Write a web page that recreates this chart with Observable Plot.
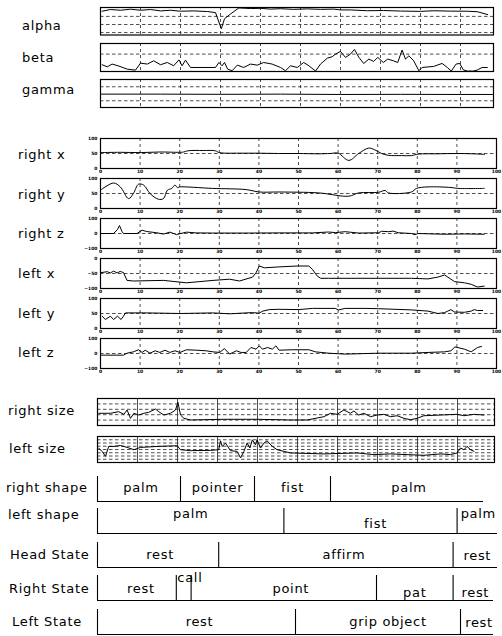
<!DOCTYPE html>
<html><head><meta charset="utf-8">
<script src="https://cdn.jsdelivr.net/npm/d3@7"></script>
<script src="https://cdn.jsdelivr.net/npm/@observablehq/plot@0.6"></script>
<style>
body{margin:0;background:#fff;}
#chart{position:relative;width:502px;height:636px;overflow:hidden;background:#fff;font-family:"DejaVu Sans",sans-serif;}
.lab{position:absolute;font-size:13px;letter-spacing:0.7px;line-height:1;white-space:nowrap;color:#000;transform:translateY(-50%);}
</style></head><body><div id="chart"></div><script>
// ---------- data ----------
const xTicks = [0,10,20,30,40,50,60,70,80,90,100];
const gridX = [10,20,30,40,50,60,70,80,90];

const alphaT = [0.4,2.5,5,7.5,10,12.5,15,17.5,20,23.3,26.7,28.75,30.2,31,32.5,34.6,37.5,40,42.5,45,48.3,51.7,55,58.3,60,62.5,66.7,70.8,75,80,83.3,87.5,91.7,94.2,96.8];
const alphaV = [2.64,2.85,2.76,2.89,2.76,2.85,2.68,2.76,2.64,2.68,2.6,2.47,0.47,1.7,2.3,3.05,2.97,3.0,2.9,2.95,2.87,2.93,2.87,2.9,2.8,2.8,2.7,2.73,2.66,2.62,2.7,2.65,2.64,2.58,2.22];

const betaT = [0.4,1.7,2.9,4.6,6.7,8.75,10,11.7,13.3,15,16.7,18.3,19.6,20.4,21.25,22.5,28.75,29.6,30.4,31,31.8,32.9,34.2,35.8,37.5,39.2,40.8,42.9,45,46.25,47.5,49.2,50.8,52.1,53.75,55,56.7,57.9,58.75,60,61.25,62.5,63.5,64.6,65.8,67.1,68.3,69.3,70.7,71.8,73.2,74.3,75.4,76.25,77.1,78.3,79.6,80.4,83.3,85.4,86.7,87.7,88.9,89.8,90.7,91.7,93.2,94.2,95.4,96.7];
const betaV = [-1.0,-1.2,-0.94,-1.13,-1.42,-1.51,-0.85,-0.94,-0.63,-1.0,-0.79,-1.1,-0.54,-1.1,-0.57,-1.26,-1.26,-0.79,-1.1,-0.79,-1.42,-1.57,-1.04,-1.26,-0.94,-1.04,-0.79,-0.94,-1.26,-1.57,-1.1,-1.26,-0.79,-1.1,-1.6,-0.94,-0.38,-0.25,0,0.25,-0.31,0,0.44,-0.31,-0.88,-0.47,-0.69,-0.31,-0.79,-0.47,-0.63,-0.79,0.38,-0.47,-0.16,-0.63,-1.57,-1.26,-1.16,-0.88,-1.26,-1.6,-0.94,-0.88,-1.48,-1.6,-1.6,-1.5,-1.26,-1.26];

const gammaT = [0,15,30,45,60,75,90,98];
const gammaV = [-0.05,-0.05,-0.08,-0.05,-0.1,-0.08,-0.1,-0.1];

const rxT = [0,5,10,15,20,21,22,26,29,30,35,40,45,50,55,58,60,62.7,65.2,67.7,69.3,71,72.7,76,78.5,80.2,85,90,94,97];
const rxV = [53,54,53,55,54,55,59,60,59,53,51,51,50,50,49,50,51,27,50,68,62,50,44,43,43,48,49,50,49,47];

const ryT = [0.2,3.3,5,7.1,8.3,9.6,10.9,12.5,14.6,15.9,16.9,18,18.8,19.4,20,28.3,36.8,40.1,45.1,55.1,62.7,65.2,70.2,71.9,72.7,78.5,79.8,82.7,88.5,90.2,96.9];
const ryV = [63,85,72,33,50,81,78,50,31,33,61,67,78,70,72,67,63,55,55,52,41,52,54,60,52,55,67,72,70,67,67];

const rzT = [0.2,3.3,4.3,4.8,5.4,5.8,9.2,10.5,11.7,14.2,15.9,17.5,19.2,21.7,24.2,28.3,37.6,45.1,53.5,57.6,59.3,61.8,65.2,70.2,71,72.7,73.9,75.2,78.5,79.4,80.2,86.9,91.9,96.9];
const rzV = [0,0,27,53,15,0,0,22,13,5,-4,9,-7,9,4,3,3,4,4,10,6,12,3,5,15,12,16,5,0,-8,0,-5,-3,-5];

const lxT = [0.2,1.7,2.5,3.3,4.2,5,5.8,6.7,8.3,15.9,21.7,25.1,28.4,32.6,35.1,38.4,39.3,40.1,41.4,45.1,49.7,52.6,53.5,54.7,55.6,57.6,70.2,78.5,82.7,85.2,86.9,89.4,91.9,93.6,95.2,96.9];
const lxV = [-47,-44,-48,-42,-48,-43,-47,-73,-75,-73,-81,-77,-73,-69,-75,-62,-47,-25,-31,-28,-25,-25,-36,-58,-66,-66,-66,-66,-68,-62,-55,-77,-81,-86,-95,-92];

const lyT = [0.4,1.25,2.5,3.3,4.3,5.2,5.8,6.3,11.7,20.1,28.3,32.6,36.8,38.4,40,41,42.6,45.1,50.1,53.5,59.3,60.1,61.8,66.8,70.2,78.5,82.7,85.2,86.9,87.7,88.5,89.4,91.9,93.6,94.4,95.2,96.5];
const lyV = [41,30,41,30,41,30,41,52,52,50,52,49,52,53,51,58,63,64,63,67,67,62,67,67,66,62,58,50,53,58,63,55,54,58,63,60,60];

const lzT = [0.2,5.8,6.7,8.3,9.6,10.5,11.3,12.5,13.8,15,16.3,17.5,18.8,20.1,21.7,24.2,26.7,28.4,30.1,31.3,32.6,34.3,35.5,36.8,38,39.3,40.1,40.9,42.2,43.4,44.3,45.1,48.4,52.6,54.3,57.6,61.8,70.2,78.5,82.7,86.9,88.5,89.5,91.9,93.6,95.2,96.2];
const lzV = [-11,-11,2,11,25,7,22,2,18,7,22,7,18,7,25,22,18,11,7,33,-4,18,7,7,40,29,51,29,40,29,51,22,25,25,11,2,-4,2,2,7,11,18,44,29,11,40,47];

const rsT = [0.3,3.25,5.3,6.6,7.4,8.25,9.1,10.3,11.6,12.8,14.5,15.3,16.6,18.25,19.5,20.1,20.75,21.6,23.25,31.6,39.9,48.25,52.4,56.6,58.25,59.9,61.6,63.25,64.1,65.3,66.6,68.25,69.9,71.6,73.25,74.9,76.6,78.25,79.9,81.6,85.75,89.9,91.6,94.1,96.6];
const rsV = [2.26,2.26,2.56,2.07,2.87,1.33,2.26,1.94,2.26,2.44,3.06,2.56,1.94,2.26,2.87,4.3,1.94,1.33,1.02,1.15,1.15,1.02,1.02,1.63,2.26,2.07,2.87,2.26,2.69,1.94,2.26,1.63,1.94,2.07,1.63,1.81,1.33,1.07,1.33,1.81,1.94,2.07,1.81,2.07,1.94];

const lsT = [0.3,1.2,2,2.8,4.1,5.75,7.4,9.1,10.75,14.9,19.9,20.75,23.25,28.25,30.3,30.75,31.2,32,33.25,34.9,35.75,36.6,37.4,38.1,38.7,39.5,39.9,40.75,41.6,42.4,43.7,44.9,46.6,48.25,56.6,64.9,69.1,73.25,81.6,85.75,88.25,89.9,90.75,91.6,92.4,93.25,94.1];
const lsV = [4.45,3.33,1.9,4.94,4.94,5.24,4.64,3.94,4.64,4.94,5.15,3.94,3.64,3.73,3.94,6.67,4.94,5.97,3.64,3.42,1.42,3.42,5.97,4.45,6.97,5.45,6.97,4.45,5.97,6.67,4.94,3.94,3.42,2.94,2.64,2.94,2.42,2.64,2.21,2.64,2.42,2.94,4.45,3.94,4.94,3.94,3.42];

const rightShapeLabels = ["palm","pointer","fist","palm"];
const rightShapeBounds = [0,20.75,39.25,58.25,96.5];
const leftShapeLabels = ["palm","fist","palm"];
const leftShapeBounds = [0,46.6,89.9,100];
const headLabels = ["rest","affirm","rest"];
const headBounds = [0,30.3,88.9,100];
const rightStateLabels = ["rest","call","point","pat","rest"];
const rightStateBounds = [0,19.7,23.4,69.75,88.9,99];
const leftStateLabels = ["rest","grip object","rest"];
const leftStateBounds = [0,49.5,90.75,99];

// ---------- drawing ----------
const chart = document.getElementById("chart");

function place(svg, top){
  svg.style.position = "absolute";
  svg.style.left = "0px";
  svg.style.top = top + "px";
  chart.appendChild(svg);
}

function linePanel(o){
  const mt = o.axes ? 4 : 1, mb = o.axes ? 8 : 1;
  const data = o.t.map((t,i)=>({t, v:o.v[i]}));
  const svg = Plot.plot({
    width: 502, height: o.h + mt + mb,
    marginTop: mt, marginBottom: mb, marginLeft: o.x0, marginRight: 502 - o.x1,
    x: o.axes ? {domain:o.xd, ticks:xTicks, tickSize:0, tickPadding:1, label:null} : {domain:o.xd, axis:null},
    y: o.axes ? {domain:o.yd, ticks:o.yTicks, tickSize:0, tickPadding:3, label:null} : {domain:o.yd, axis:null},
    style: {background:"transparent", fontSize:"4.5px", fontWeight:"bold", fontFamily:"DejaVu Sans", overflow:"visible"},
    marks: [
      Plot.ruleX(gridX, {stroke:"#222", strokeWidth:0.8, strokeDasharray: o.vSolid ? null : "3,3"}),
      Plot.ruleY(o.hGrid, {stroke:"#222", strokeWidth:0.8, strokeDasharray:"3.5,2.5"}),
      Plot.line(data, {x:"t", y:"v", stroke:"#000", strokeWidth:1, curve: o.curve || "linear"}),
      Plot.frame({stroke:"#000", strokeWidth:1.2})
    ]
  });
  place(svg, o.top - mt);
}

// head angles
const topX = {x0:100, x1:493, xd:[0,98.25]};
linePanel({...topX, t:alphaT, v:alphaV, top:7, h:27.5, yd:[-0.3,3.1], hGrid:[0,1,2]});
linePanel({...topX, t:betaT, v:betaV, top:43, h:28, yd:[-1.64,1], hGrid:[0]});
linePanel({...topX, t:gammaT, v:gammaV, top:79, h:28, yd:[-1.96,2.04], hGrid:[-1,1]});

// hand positions
const midX = {x0:100, x1:496, xd:[0,100], axes:true, h:30};
linePanel({...midX, t:rxT, v:rxV, top:138, yd:[0,100], yTicks:[0,50,100], hGrid:[50], curve:"catmull-rom"});
linePanel({...midX, t:ryT, v:ryV, top:178, yd:[0,100], yTicks:[0,50,100], hGrid:[50], curve:"catmull-rom"});
linePanel({...midX, t:rzT, v:rzV, top:218, yd:[-100,100], yTicks:[-100,0,100], hGrid:[0]});
linePanel({...midX, t:lxT, v:lxV, top:258, yd:[-100,0], yTicks:[-100,-50,0], hGrid:[-50]});
linePanel({...midX, t:lyT, v:lyV, top:298, yd:[0,100], yTicks:[0,50,100], hGrid:[50]});
linePanel({...midX, t:lzT, v:lzV, top:338, yd:[-100,100], yTicks:[-100,0,100], hGrid:[0]});

// hand sizes
const sizeX = {x0:97, x1:494, xd:[0,99.25], vSolid:true};
linePanel({...sizeX, t:rsT, v:rsV, top:398, h:27, yd:[0,5], hGrid:[1,2,3,4]});
linePanel({...sizeX, t:lsT, v:lsV, top:436, h:26, yd:[0,8], hGrid:[1,2,3,4,5,6,7]});

// state rows
function stateRow(labels, bounds, top, fracs, dxs, startIdx){
  const segs = labels.map((l,i)=>({label:l, a:bounds[i], b:bounds[i+1], f:fracs[i], dx:dxs[i]}));
  const centered = segs.filter((d,i)=>i !== startIdx);
  const started = segs.filter((d,i)=>i === startIdx);
  const tx = {fontSize:13, fontFamily:"DejaVu Sans", fill:"#000"};
  const svg = Plot.plot({
    width:502, height:27, marginTop:1, marginBottom:1, marginLeft:97, marginRight:5,
    x:{domain:[0,100], axis:null}, y:{domain:[0,1], axis:null},
    style:{background:"transparent", overflow:"visible", letterSpacing:"0.7px"},
    marks:[
      Plot.ruleY([0], {x1:bounds[0], x2:bounds[bounds.length-1], stroke:"#000", strokeWidth:1.2}),
      Plot.ruleX(bounds.slice(0,-1), {x:d=>d, y1:0, y2:1, stroke:"#000", strokeWidth:1.1}),
      Plot.text(centered, {...tx, x:d=>(d.a+d.b)/2 + d.dx/4, y:"f", text:"label"}),
      Plot.text(started, {...tx, x:d=>d.a + d.dx/4, y:"f", text:"label", textAnchor:"start"})
    ]
  });
  place(svg, top - 1);
}
stateRow(rightShapeLabels, rightShapeBounds, 476, [0.55,0.55,0.55,0.55], [2,0,0,2], -1);
stateRow(leftShapeLabels, leftShapeBounds, 508, [0.8,0.4,0.8], [0,5,1], -1);
stateRow(headLabels, headBounds, 542, [0.52,0.52,0.47], [2,8,2], -1);
stateRow(rightStateLabels, rightStateBounds, 575, [0.45,0.9,0.45,0.3,0.3], [4,1,7,0,2], 1);
stateRow(leftStateLabels, leftStateBounds, 609, [0.52,0.52,0.45], [3,10,2], -1);

// row labels
const rowLabels = [
  ["alpha",22,25],["beta",22,57],["gamma",22,89],
  ["right x",18,154],["right y",18,194],["right z",18,233],
  ["left x",18,273],["left y",18,313],["left z",18,352],
  ["right size",8,410],["left size",9,448],
  ["right shape",6,487],["left shape",8,514],["Head State",10,554],["Right State",9,588],["Left State",12,621]
];
for (const [t,x,y] of rowLabels){
  const d = document.createElement("div");
  d.className = "lab";
  d.textContent = t;
  d.style.left = x + "px";
  d.style.top = y + "px";
  chart.appendChild(d);
}
</script></body></html>
